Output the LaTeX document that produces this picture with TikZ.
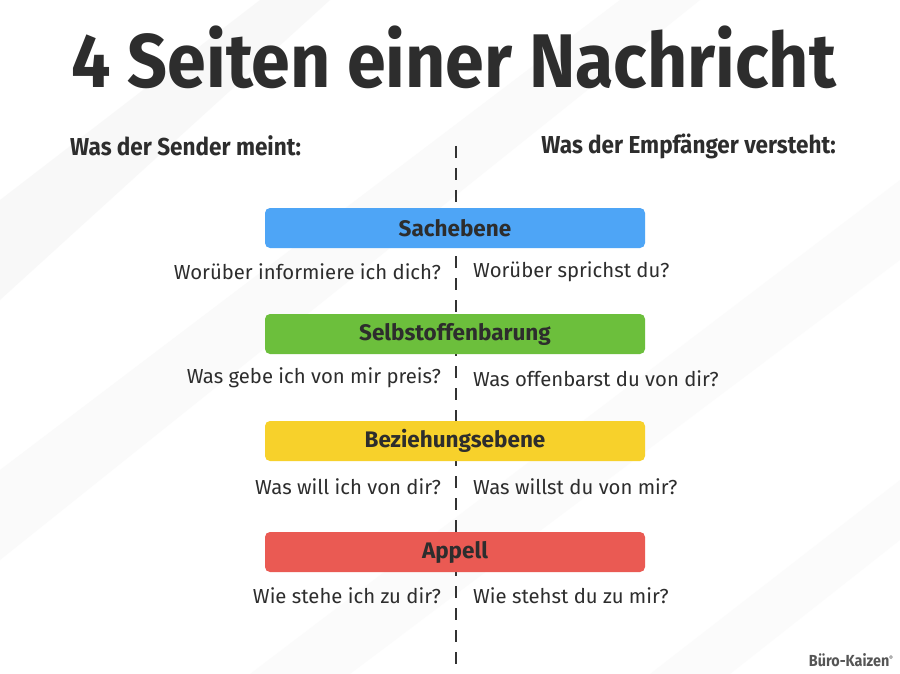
\documentclass[tikz,border=0pt]{standalone}
\usepackage{fontspec}
\setmainfont{Fira Sans}
\newfontfamily\condfont[FakeStretch=0.92]{Fira Sans}
\newfontfamily\logofont[FakeStretch=0.9]{Fira Sans}
\definecolor{ink}{HTML}{2D2D2D}
\definecolor{dashc}{HTML}{333333}
\definecolor{sachc}{HTML}{4EA5F6}
\definecolor{selbc}{HTML}{6CBF3C}
\definecolor{bezc}{HTML}{F7D12B}
\definecolor{appc}{HTML}{EA5A53}
\definecolor{streak}{HTML}{F1F1F1}
\definecolor{logoc}{HTML}{555555}
\tikzset{
  level/.style={rounded corners=5pt, minimum width=380pt, minimum height=40pt, inner sep=0pt,
     text=ink, font=\fontsize{22.5}{26}\selectfont\bfseries},
  qleft/.style={anchor=east, text=ink, font=\fontsize{20.3}{24}\selectfont, inner sep=0pt},
  qright/.style={anchor=west, text=ink, font=\fontsize{20.3}{24}\selectfont, inner sep=0pt},
  subhead/.style={text=ink, font=\condfont\fontsize{24.5}{28}\selectfont\bfseries, inner sep=0pt},
}
\begin{document}
\begin{tikzpicture}[x=1pt,y=-1pt]
\useasboundingbox (0,0) rectangle (900,674);
\fill[white] (0,0) rectangle (900,674);
% faint diagonal streaks
\fill[streak, opacity=0.45] (0,200) -- (260,0) -- (330,0) -- (0,300) -- cycle;
\fill[streak, opacity=0.35] (0,470) -- (620,0) -- (700,0) -- (0,560) -- cycle;
\fill[streak, opacity=0.25] (250,674) -- (900,180) -- (900,260) -- (350,674) -- cycle;
\fill[streak, opacity=0.25] (650,674) -- (900,480) -- (900,540) -- (730,674) -- cycle;
% title
\node[text=ink, font=\condfont\fontsize{76}{80}\selectfont\bfseries, inner sep=0pt] (title) at (454,57) {4 Seiten einer Nachricht};
% subheadings
\node[subhead, anchor=west] (send) at (70,146) {Was der Sender meint:};
\node[subhead, anchor=east] (recv) at (836,146) {Was der Empfänger versteht:};
% dashed line
\coordinate (ltop) at (456,146);
\coordinate (lbot) at (456,674);
\draw[dashc, line width=1.6pt, dash pattern=on 12pt off 10pt] (ltop) -- (lbot);
% level boxes
\node[level, fill=sachc] (sach) at (455,228) {Sachebene};
\node[level, fill=selbc] (selb) at (455,334) {Selbstoffenbarung};
\node[level, fill=bezc] (bez) at (455,441) {Beziehungsebene};
\node[level, fill=appc] (app) at (455,552) {Appell};
% questions
\node[qleft] (q1l) at (441,272) {Worüber informiere ich dich?};
\node[qright] (q1r) at (473,272) {Worüber sprichst du?};
\node[qleft] (q2l) at (441,378) {Was gebe ich von mir preis?};
\node[qright] (q2r) at (473,379) {Was offenbarst du von dir?};
\node[qleft] (q3l) at (441,487) {Was will ich von dir?};
\node[qright] (q3r) at (473,487) {Was willst du von mir?};
\node[qleft] (q4l) at (441,596) {Wie stehe ich zu dir?};
\node[qright] (q4r) at (473,596) {Wie stehst du zu mir?};
% logo
\node[anchor=east, text=logoc, font=\logofont\fontsize{16}{18}\selectfont\bfseries, inner sep=0pt] (logo) at (893,660) {Büro-Kaizen\raisebox{0.7ex}{\fontsize{6}{7}\selectfont ®}};
\end{tikzpicture}
\end{document}
